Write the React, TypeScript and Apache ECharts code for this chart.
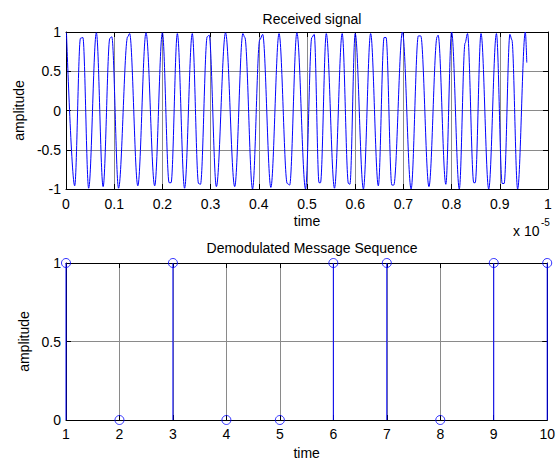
import React, { useEffect, useRef } from "react";
import * as echarts from "echarts";

// Received signal: time in units of 1e-5 s, amplitude
const receivedTime = [
  0.001, 0.018, 0.030, 0.035, 0.047, 0.063, 0.077, 0.091, 0.095, 0.109,
  0.128, 0.132, 0.149, 0.166, 0.184, 0.200, 0.214, 0.218, 0.231, 0.246,
  0.262, 0.275, 0.279, 0.293, 0.297, 0.312, 0.331, 0.350, 0.367, 0.371,
  0.387, 0.402, 0.408, 0.425, 0.442, 0.459, 0.464, 0.479, 0.497, 0.510,
  0.515, 0.525, 0.528, 0.540, 0.557, 0.573, 0.586, 0.589, 0.600, 0.617,
  0.632, 0.648, 0.660, 0.664, 0.676, 0.680, 0.698, 0.716, 0.731, 0.736,
  0.753, 0.770, 0.772, 0.788, 0.800, 0.816, 0.828, 0.833, 0.846, 0.849,
  0.861, 0.877, 0.893, 0.905, 0.909, 0.921, 0.925, 0.937, 0.953, 0.956,
];
const receivedAmp = [
  0.99, -0.96, 0.92, 0.93, -0.99, 0.99, -0.97, 0.92, 0.94, -0.99,
  0.94, 0.98, -0.96, 0.99, -0.96, 0.99, -0.92, -0.92, 0.98, -0.99,
  0.98, -0.93, -0.94, 0.94, 0.96, -0.97, 0.99, -0.97, 0.98, 0.93,
  -1.0, 0.90, 0.97, -0.98, 0.98, -0.93, -0.95, 0.99, -1.0, 0.93,
  0.97, -0.92, -0.92, 0.98, -0.99, 0.98, -0.93, -0.94, 0.98, -1.0,
  0.98, -0.96, 0.93, 0.93, -0.95, -0.95, 1.0, -1.0, 0.95, 0.95,
  -0.97, 0.94, 0.96, -0.94, 1.0, -1.0, 0.86, 0.98, -0.92, -0.92,
  0.98, -1.0, 0.98, -0.93, -0.93, 0.97, 0.90, -1.0, 1.0, 0.61,
];

// Demodulated message sequence
const messageIndex = [1, 2, 3, 4, 5, 6, 7, 8, 9, 10];
const messageBits = [1, 0, 1, 0, 0, 1, 1, 0, 1, 1];

const topTitle = "Received signal";
const bottomTitle = "Demodulated Message Sequence";
const xName = "time";
const yName = "amplitude";

const FONT = "'Liberation Sans', Arial, Helvetica, sans-serif";
const FS = 14;
const BLUE = "#0000ff";
const GRIDC = "#8a8a8a";

function fmt(v: number): string {
  const r = Math.round(v * 10) / 10;
  return String(r);
}

export default function App() {
  const ref = useRef<HTMLDivElement>(null);
  useEffect(() => {
    const chart = echarts.init(ref.current!, null, { renderer: "svg" });
    const label = { color: "#000", fontFamily: FONT, fontSize: FS };
    const tick = { show: true, inside: true, length: 5, lineStyle: { color: "#000", width: 1 } };
    const line = { show: true, onZero: false, lineStyle: { color: "#000", width: 1 } };
    const split = { show: true, showMinLine: false, showMaxLine: false, lineStyle: { color: GRIDC, width: 1 } };
    const mirrorX = (gi: number, min: number, max: number, interval: number) => ({
      type: "value", gridIndex: gi, position: "top", min, max, interval,
      axisLine: line, axisTick: tick, axisLabel: { show: false }, splitLine: { show: false },
    });
    const mirrorY = (gi: number, min: number, max: number, interval: number) => ({
      type: "value", gridIndex: gi, position: "right", min, max, interval,
      axisLine: line, axisTick: tick, axisLabel: { show: false }, splitLine: { show: false },
    });
    const signal = receivedTime.map((t, i) => [t, receivedAmp[i]]);
    const stems = messageIndex.map((k, i) => [k, messageBits[i]]);
    chart.setOption({
      animation: false,
      backgroundColor: "#fff",
      textStyle: { fontFamily: FONT },
      title: [
        { text: topTitle, left: 307, textAlign: "center", top: 7,
          textStyle: { fontSize: FS, fontWeight: "normal", color: "#000", fontFamily: FONT } },
        { text: bottomTitle, left: 307, textAlign: "center", top: 236,
          textStyle: { fontSize: FS, fontWeight: "normal", color: "#000", fontFamily: FONT } },
      ],
      grid: [
        { left: 66, top: 32, width: 482, height: 157, show: false },
        { left: 66, top: 263, width: 482, height: 157, show: false },
      ],
      xAxis: [
        { type: "value", gridIndex: 0, min: 0, max: 1, interval: 0.1,
          axisLine: line, axisTick: tick, splitLine: split,
          axisLabel: { ...label, margin: 8, formatter: (v: number) => fmt(v) },
          name: xName, nameLocation: "middle", nameGap: 25,
          nameTextStyle: { ...label } },
        mirrorX(0, 0, 1, 0.1),
        { type: "value", gridIndex: 1, min: 1, max: 10, interval: 1,
          axisLine: line, axisTick: tick, splitLine: split,
          axisLabel: { ...label, margin: 7 },
          name: xName, nameLocation: "middle", nameGap: 26,
          nameTextStyle: { ...label } },
        mirrorX(1, 1, 10, 1),
      ],
      yAxis: [
        { type: "value", gridIndex: 0, min: -1, max: 1, interval: 0.5,
          axisLine: line, axisTick: tick, splitLine: split,
          axisLabel: { ...label, margin: 5 },
          name: yName, nameLocation: "middle", nameGap: 38,
          nameTextStyle: { ...label } },
        mirrorY(0, -1, 1, 0.5),
        { type: "value", gridIndex: 1, min: 0, max: 1, interval: 0.5,
          axisLine: line, axisTick: tick, splitLine: split,
          axisLabel: { ...label, margin: 5 },
          name: yName, nameLocation: "middle", nameGap: 34,
          nameTextStyle: { ...label } },
        mirrorY(1, 0, 1, 0.5),
      ],
      graphic: [
        { type: "text", left: 513, top: 224,
          style: { text: "x 10", fill: "#000", fontFamily: FONT, fontSize: FS } },
        { type: "text", left: 541, top: 217,
          style: { text: "-5", fill: "#000", fontFamily: FONT, fontSize: 10 } },
      ],
      series: [
        { type: "line", xAxisIndex: 0, yAxisIndex: 0, data: signal, showSymbol: false,
          smooth: 0.35, smoothMonotone: "x",
          lineStyle: { color: BLUE, width: 1 }, itemStyle: { color: BLUE }, z: 3 },
        { type: "custom", xAxisIndex: 2, yAxisIndex: 2, data: stems, z: 3,
          renderItem: (params: any, api: any) => {
            const x = api.value(0);
            const y = api.value(1);
            const p0 = api.coord([x, 0]);
            const p1 = api.coord([x, y]);
            return { type: "line", shape: { x1: p0[0], y1: p0[1], x2: p1[0], y2: p1[1] },
              style: { stroke: BLUE, lineWidth: 1 } };
          } },
        { type: "scatter", xAxisIndex: 2, yAxisIndex: 2, data: stems, symbol: "circle", symbolSize: 9,
          clip: false, z: 4,
          itemStyle: { color: "transparent", borderColor: BLUE, borderWidth: 1 } },
      ],
    });
    return () => chart.dispose();
  }, []);
  return <div ref={ref} style={{ position: "fixed", left: 0, top: 0, width: 558, height: 461 }} />;
}
